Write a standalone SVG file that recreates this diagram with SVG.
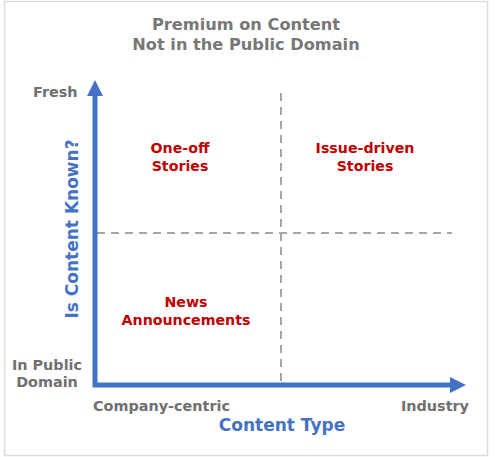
<svg xmlns="http://www.w3.org/2000/svg" width="500" height="457" viewBox="0 0 500 457">
<defs>
<style>
text{font-family:"DejaVu Sans",Verdana,sans-serif;font-weight:bold}
.title{font-size:16.2px;fill:#777;text-anchor:middle}
.lab{font-size:14.4px;fill:#707070}
.axis{font-size:17px;fill:#4472C4;text-anchor:middle}
.q{font-size:14.2px;fill:#C00000;text-anchor:middle}
.dash{stroke:#a6a6a6;stroke-width:2;stroke-dasharray:8,6;fill:none}
.ax{stroke:#4472C4;stroke-width:5;fill:none}
</style>
</defs>
<rect x="4.5" y="1.5" width="483" height="454" fill="#fff" stroke="#ddd" stroke-width="1.5"/>
<g id="title">
<text class="title" x="246" y="30">Premium on Content</text>
<text class="title" x="246" y="50">Not in the Public Domain</text>
</g>
<g id="connectors">
<line class="dash" x1="97" y1="233" x2="452" y2="233"/>
<polyline class="ax" points="95,94 95,385 452,385"/>
<polygon points="95,80 87,96 103,96" fill="#4472C4"/>
<polygon points="466,385 450,377 450,393" fill="#4472C4"/>
<line class="dash" x1="281" y1="93" x2="281" y2="387"/>
</g>
<g id="y-top"><text class="lab" x="33" y="97">Fresh</text></g>
<g id="y-bottom">
<text class="lab" x="47" y="370" text-anchor="middle">In Public</text>
<text class="lab" x="47" y="387" text-anchor="middle">Domain</text>
</g>
<g id="x-left"><text class="lab" x="93" y="411">Company-centric</text></g>
<g id="x-right"><text class="lab" x="469" y="411" text-anchor="end">Industry</text></g>
<g id="x-title"><text class="axis" x="282" y="431">Content Type</text></g>
<g id="y-title"><text class="axis" transform="translate(78,229) rotate(-90)" x="0" y="0">Is Content Known?</text></g>
<g id="one-off">
<text class="q" x="180" y="153">One-off</text>
<text class="q" x="180" y="171">Stories</text>
</g>
<g id="issue-driven">
<text class="q" x="365" y="153">Issue-driven</text>
<text class="q" x="365" y="171">Stories</text>
</g>
<g id="news">
<text class="q" x="186" y="307">News</text>
<text class="q" x="186" y="325">Announcements</text>
</g>
</svg>
